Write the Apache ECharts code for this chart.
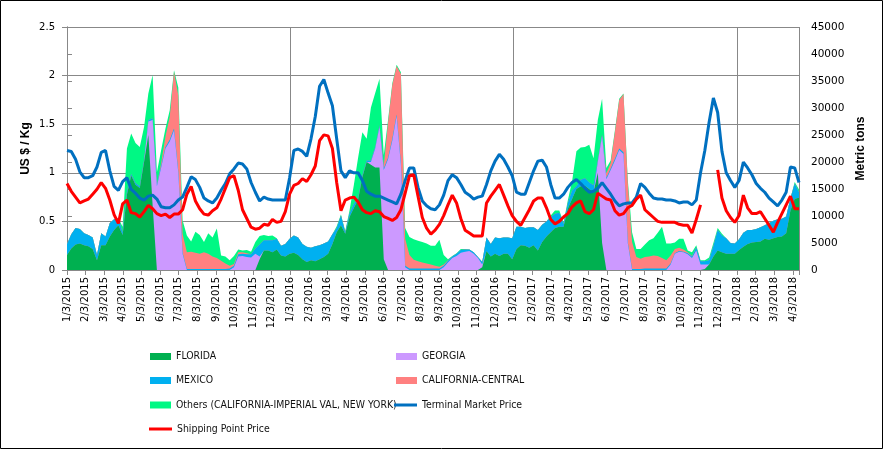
<!DOCTYPE html>
<html><head><meta charset="utf-8">
<script src="https://cdn.jsdelivr.net/npm/echarts@6/dist/echarts.min.js"></script>
<style>html,body{margin:0;padding:0;background:#fff}#c{width:883px;height:449px}</style>
</head><body><div id="c"></div><script>
// Weekly observations starting 1/3/2015 (Saturday), last week 4/14/2018
const startDate = '1/3/2015';
// x-axis tick labels (monthly)
const tickLabels = ['1/3/2015','2/3/2015','3/3/2015','4/3/2015','5/3/2015','6/3/2015','7/3/2015','8/3/2015','9/3/2015','10/3/2015','11/3/2015','12/3/2015',
'1/3/2016','2/3/2016','3/3/2016','4/3/2016','5/3/2016','6/3/2016','7/3/2016','8/3/2016','9/3/2016','10/3/2016','11/3/2016','12/3/2016',
'1/3/2017','2/3/2017','3/3/2017','4/3/2017','5/3/2017','6/3/2017','7/3/2017','8/3/2017','9/3/2017','10/3/2017','11/3/2017','12/3/2017',
'1/3/2018','2/3/2018','3/3/2018','4/3/2018'];

// Volumes, thousand metric tons per week
const florida = [2.8,4.0,4.7,4.9,4.6,4.4,3.9,1.8,4.6,4.6,
 6.2,7.4,8.3,6.5,14.0,17.5,15.8,15.2,20.0,25.0,
 12.0,0,0,0,0,0,0,0,0,0,
 0,0,0,0,0,0,0,0,0,0,
 0,0,0,0,0,2.0,3.6,3.6,3.3,3.8,
 2.7,2.5,3.0,3.2,2.8,2.0,1.5,1.8,1.6,2.0,
 2.4,3.0,4.8,7.0,8.3,6.7,9.8,11.5,13.0,17.2,
 20.0,19.5,19.0,19.0,2.0,0,0,0,0,0,
 0,0,0,0,0,0,0,0,0,0,
 0,0,0,0,0,0,0,0.5,3.5,2.5,
 3.0,2.6,3.0,3.0,2.0,3.9,4.6,4.5,4.1,4.6,
 3.6,5.2,6.2,7.0,7.8,8.0,8.0,11.4,13.2,15.0,
 15.5,15.6,15.0,14.4,18.0,5.0,0,0,0,0,
 0,0,0,0,0,0,0,0,0,0,
 0,0,0,0,0,0,0,0,0,0.2,
 1.0,2.5,3.6,3.3,3.0,3.0,3.0,3.7,4.3,4.8,
 5.1,5.2,5.3,5.8,5.6,5.9,6.1,6.2,6.8,11.0,
 13.2,13.4];
const georgia = [0,0,0,0,0,0,0,0,0,0,
 0,0,0,0,0,0,0,0,0,2.5,
 15.8,15.5,19.0,22.5,23.8,25.9,18.0,3.0,0,0,
 0,0,0,0,0,0,0,0,0,0.5,
 2.5,2.6,2.4,2.3,3.0,0.5,0,0,0,0,
 0,0,0,0,0,0,0,0,0,0,
 0,0,0,0,0,0,0,0,0,0,
 0,0.5,3.5,7.5,16.5,20.5,24.0,28.5,19.5,0.5,
 0,0,0,0,0,0,0,0,0.5,1.4,
 2.2,2.6,3.2,3.4,3.5,3.0,2.2,0.5,0,0,
 0,0,0,0,0,0,0,0,0,0,
 0,0,0,0,0,0,0,0,0,0,
 0,0,0,0,2.0,19.8,16.8,18.5,20.3,22.2,
 21.5,5.0,0,0,0,0,0,0,0,0,
 0,1.0,3.0,3.4,3.3,2.9,2.2,3.6,1.0,0.8,
 0,0,0,0,0,0,0,0,0,0,
 0,0,0,0,0,0,0,0,0,0,
 0,0];
const mexico = [2.0,2.6,3.1,2.7,2.2,2.1,2.1,1.0,2.2,1.6,
 2.5,2.0,1.3,0.5,0.5,0.3,0.3,0.3,0.3,0.3,
 0.3,0.3,0.3,0.3,0.3,0.3,0.3,0.2,0.2,0.2,
 0.2,0.2,0.2,0.2,0.2,0.2,0.2,0.2,0.3,0.3,
 0.4,0.4,0.5,0.6,1.0,2.2,1.9,1.9,2.2,2.0,
 1.8,2.3,2.8,3.2,3.2,2.8,2.8,2.3,2.8,2.6,
 2.5,2.3,1.8,0.8,1.8,0.3,0.7,0.7,0.3,0.3,
 0.3,0.3,0.3,0.3,0.3,0.3,0.3,0.3,0.3,0.3,
 0.3,0.3,0.3,0.3,0.3,0.3,0.3,0.3,0.3,0.3,
 0.3,0.4,0.5,0.4,0.3,0.3,0.2,0.5,2.5,2.3,
 3.0,3.3,3.0,3.0,3.9,4.1,3.4,3.3,3.8,3.3,
 3.8,3.2,2.8,2.8,2.6,2.6,0.5,1.0,1.5,0.5,
 1.2,1.4,1.2,1.3,0.3,0.3,0.3,0.3,0.3,0.3,
 0.3,0.2,0.2,0.2,0.2,0.3,0.3,0.3,0.3,0.3,
 0.3,0.2,0.1,0.1,0.1,0.2,0.3,0.6,0.6,0.6,
 0.8,2.0,3.8,3.1,2.9,2.0,1.9,2.0,2.6,2.6,
 2.3,2.4,2.6,2.5,3.1,3.2,3.3,3.3,3.1,2.3,
 2.8,1.0];
const californiaCentral = [0,0,0,0,0,0,0,0,0,0,
 0,0,0,0,0,0,0,0,0,0,
 0,0,0.5,1.9,4.3,10.5,14.0,3.5,3.1,3.2,
 3.0,2.8,3.1,2.8,2.3,2.0,1.5,1.0,0.5,0.3,
 0.4,0.3,0.2,0,0,0,0,0,0,0,
 0,0,0,0,0,0,0,0,0,0,
 0,0,0,0,0,0,0,0,0,0,
 0,0,0,0,0.5,6.5,10.0,9.0,16.5,5.0,
 2.5,1.6,1.3,1.1,0.9,0.7,0.5,0.3,0.2,0.1,
 0,0,0,0,0,0,0,0,0,0,
 0,0,0,0,0,0,0,0,0,0,
 0,0,0,0,0,0,0,0,0,0,
 0,0,0,0,0,0,0.8,1.0,5.0,9.0,
 10.8,11.0,5.0,2.2,1.9,2.1,2.2,2.4,2.3,1.9,
 1.5,1.5,0.8,0.6,0.4,0.2,0.1,0,0,0,
 0,0,0,0,0,0,0,0,0,0,
 0,0,0,0,0,0,0,0,0,0,
 0,0];
const others = [0,0,0,0,0,0,0,0,0,0,
 0,0,0,1.0,8.0,7.5,7.4,7.3,6.2,4.9,
 8.0,2.3,2.4,1.5,1.2,0.3,1.5,2.5,3.1,1.9,
 3.9,3.5,1.9,3.8,3.5,5.5,1.0,1.3,1.0,1.5,
 0.5,0.3,0.6,0.5,1.2,1.6,1.0,0.8,0.9,0.1,
 0,0,0,0,0,0,0,0,0,0,
 0,0,0,0.3,0.2,0.2,0.5,3.5,7.5,8.0,
 4.0,9.8,10.0,8.6,2.0,0.5,0.3,0.2,0.3,2.0,
 3.3,3.8,3.8,3.8,3.7,3.5,3.7,5.0,1.8,0.2,
 0.1,0.1,0.2,0.1,0,0,0,0,0,0,
 0,0,0,0,0,0,0,0,0,0,
 0,0,0,0.3,0.6,0.4,0.3,0.5,1.8,6.5,
 6.0,5.8,7.0,5.0,7.5,6.6,1.0,0.5,0.3,0.2,
 0.1,0.5,1.8,1.5,1.8,2.3,3.0,3.2,4.3,5.8,
 3.1,2.2,1.2,1.7,2.0,0.3,0.7,0.4,0.2,0.2,
 0.5,0.5,0.4,0.3,0,0,0,0,0,0,
 0,0,0,0,0,0,0,0,0,0,
 0.3,0.5];

// Prices, US $ / Kg
const terminalPrice = [1.23,1.22,1.14,1.01,0.95,0.95,0.97,1.06,1.21,1.23,
 1.02,0.86,0.82,0.91,0.95,0.83,0.79,0.74,0.72,0.76,
 0.77,0.73,0.65,0.64,0.64,0.67,0.72,0.75,0.85,0.96,
 0.93,0.85,0.74,0.71,0.69,0.74,0.82,0.89,0.99,1.04,
 1.10,1.09,1.04,0.90,0.80,0.71,0.75,0.73,0.72,0.72,
 0.72,0.72,0.95,1.23,1.245,1.22,1.17,1.35,1.58,1.89,
 1.96,1.82,1.69,1.35,1.02,0.95,1.02,1.00,1.00,0.92,
 0.81,0.78,0.76,0.76,0.74,0.72,0.70,0.68,0.78,0.92,
 1.05,1.05,0.85,0.71,0.66,0.63,0.62,0.67,0.77,0.92,
 0.98,0.95,0.88,0.80,0.77,0.73,0.75,0.76,0.88,1.02,
 1.12,1.19,1.14,1.06,0.97,0.80,0.78,0.78,0.90,1.02,
 1.12,1.13,1.06,0.88,0.74,0.74,0.78,0.85,0.90,0.93,
 0.89,0.84,0.80,0.81,0.84,0.90,0.84,0.78,0.71,0.66,
 0.68,0.69,0.69,0.75,0.89,0.85,0.79,0.74,0.73,0.73,
 0.72,0.72,0.71,0.69,0.70,0.70,0.67,0.72,1.00,1.23,
 1.52,1.77,1.62,1.22,1.00,0.92,0.85,0.92,1.11,1.05,
 0.98,0.89,0.84,0.80,0.74,0.70,0.66,0.72,0.80,1.06,
 1.05,0.90];
const shippingPrice = [0.89,0.81,0.75,0.69,0.71,0.73,0.78,0.83,0.90,0.84,
 0.72,0.57,0.48,0.68,0.72,0.59,0.58,0.545,0.60,0.665,
 0.63,0.58,0.56,0.575,0.54,0.575,0.575,0.62,0.78,0.86,
 0.71,0.63,0.575,0.565,0.61,0.64,0.73,0.84,0.95,0.97,
 0.82,0.62,0.53,0.44,0.42,0.43,0.47,0.46,0.52,0.49,
 0.50,0.60,0.78,0.87,0.89,0.94,0.91,0.98,1.07,1.33,
 1.39,1.38,1.25,0.90,0.61,0.72,0.74,0.75,0.70,0.62,
 0.59,0.58,0.61,0.60,0.55,0.53,0.51,0.54,0.62,0.79,
 0.97,0.98,0.76,0.54,0.43,0.37,0.41,0.47,0.56,0.67,
 0.77,0.69,0.53,0.41,0.38,0.35,0.35,0.35,0.69,0.76,
 0.82,0.88,0.77,0.66,0.56,0.50,0.46,0.54,0.62,0.71,
 0.74,0.74,0.64,0.52,0.475,0.50,0.545,0.58,0.65,0.69,
 0.71,0.60,0.58,0.62,0.79,0.76,0.73,0.72,0.61,0.565,
 0.58,0.64,0.665,0.73,0.77,0.62,0.58,0.54,0.50,0.49,
 0.49,0.49,0.49,0.47,0.46,0.46,0.38,0.52,0.67,null,
 null,null,1.03,0.74,0.61,0.54,0.49,0.56,0.77,0.64,
 0.58,0.58,0.60,0.53,0.46,0.39,0.49,0.58,0.67,0.76,
 0.63,0.63];

// days since the first week (weekly categories)
const dayOffsets = florida.map((_, i) => i * 7);
const MONTH = 365.25 / 12;
const XMAX = dayOffsets[dayOffsets.length - 1];

const GRID = '#888888';
const areaDefs = [
  ['FLORIDA', florida, '#00B050'],
  ['GEORGIA', georgia, '#CC99FF'],
  ['MEXICO', mexico, '#00B0F0'],
  ['CALIFORNIA-CENTRAL', californiaCentral, '#FF8080'],
  ['Others (CALIFORNIA-IMPERIAL VAL, NEW YORK)', others, '#00F884']
];
// stacked (cumulative) tops, in metric tons
let running = florida.map(() => 0);
const areaSeries = areaDefs.map(([name, arr, color]) => {
  running = running.map((r, i) => r + arr[i]);
  const tops = running.slice();
  return {
    name, type: 'line', yAxisIndex: 1, xAxisIndex: 0,
    data: tops.map((v, i) => [dayOffsets[i], Math.round(v * 1000)]),
    symbol: 'none', silent: true,
    lineStyle: { width: 0, color }, itemStyle: { color },
    areaStyle: { color, opacity: 1, origin: 'start' }, z: 2
  };
});
// draw top-most cumulative first so lower layers paint over it
const series = areaSeries.slice().reverse();
series.push({
  name: 'Terminal Market Price', type: 'line', yAxisIndex: 0, xAxisIndex: 0,
  data: terminalPrice.map((v, i) => [dayOffsets[i], v]), symbol: 'none',
  lineStyle: { width: 3, color: '#0070C0' }, itemStyle: { color: '#0070C0' }, z: 5
});
series.push({
  name: 'Shipping Point Price', type: 'line', yAxisIndex: 0, xAxisIndex: 0,
  data: shippingPrice.map((v, i) => [dayOffsets[i], v]), symbol: 'none', connectNulls: false,
  lineStyle: { width: 3, color: '#FF0000' }, itemStyle: { color: '#FF0000' }, z: 6
});

const LFONT = { fontFamily: "'Liberation Sans Narrow','DejaVu Sans Condensed','Liberation Sans',sans-serif", fontSize: 10.4, color: '#111' };
function leg(name, left, top, isLine) {
  return { data: [name], left, top, padding: 0, selectedMode: false, icon: 'rect',
    itemWidth: isLine ? 23 : 21, itemHeight: isLine ? 3 : 7, textStyle: LFONT };
}

const chart = echarts.init(document.getElementById('c'), null, { renderer: 'canvas' });
chart.setOption({
  animation: false,
  backgroundColor: '#fff',
  grid: { left: 67, right: 84, top: 27, bottom: 179, containLabel: false },
  graphic: [{ type: 'rect', shape: { x: 0.5, y: 0.5, width: 882, height: 448 }, style: { fill: 'none', stroke: '#000', lineWidth: 1 }, z: 100 }],
  legend: [
    leg('FLORIDA', 150, 351.5, false),
    leg('GEORGIA', 396, 351.5, false),
    leg('MEXICO', 150, 375.5, false),
    leg('CALIFORNIA-CENTRAL', 396, 375.5, false),
    leg('Others (CALIFORNIA-IMPERIAL VAL, NEW YORK)', 150, 400, false),
    leg('Terminal Market Price', 394, 400, true),
    leg('Shipping Point Price', 149, 424, true)
  ],
  xAxis: [{
    type: 'value', min: 0, max: XMAX, interval: MONTH, position: 'bottom',
    axisLine: { show: true, onZero: false, lineStyle: { color: GRID } },
    axisTick: { show: true, length: 5, lineStyle: { color: GRID } },
    splitLine: { show: false },
    axisLabel: {
      rotate: 90, margin: 7, fontSize: 10, fontFamily: 'DejaVu Sans', color: '#000',
      formatter: v => { const k = Math.round(v / MONTH); if (Math.abs(v - k * MONTH) > 0.5 || k >= tickLabels.length) return ''; return tickLabels[k]; }
    }
  }, {
    type: 'value', min: 0, max: XMAX, interval: 365.25, position: 'bottom',
    axisLine: { show: false }, axisTick: { show: false }, axisLabel: { show: false },
    splitLine: { show: true, lineStyle: { color: GRID, width: 1 } }
  }],
  yAxis: [{
    type: 'value', min: 0, max: 2.5, interval: 0.5, position: 'left',
    name: 'US $ / Kg', nameLocation: 'middle', nameRotate: 90, nameGap: 35, nameMoveOverlap: false,
    nameTextStyle: { fontFamily: 'Liberation Sans', fontWeight: 'bold', fontSize: 12, color: '#000' },
    axisLine: { show: true, lineStyle: { color: GRID } },
    axisTick: { show: true, length: 5, lineStyle: { color: GRID } },
    splitLine: { show: true, lineStyle: { color: GRID } },
    axisLabel: { fontSize: 10, fontFamily: 'DejaVu Sans', color: '#000', margin: 12 }
  }, {
    type: 'value', min: 0, max: 45000, interval: 5000, position: 'right',
    name: 'Metric tons', nameLocation: 'middle', nameRotate: 90, nameGap: 56, nameMoveOverlap: false,
    nameTextStyle: { fontFamily: 'Liberation Sans', fontWeight: 'bold', fontSize: 12, color: '#000' },
    axisLine: { show: true, lineStyle: { color: GRID } },
    axisTick: { show: true, length: 5, lineStyle: { color: GRID } },
    splitLine: { show: false },
    axisLabel: { fontSize: 10.5, fontFamily: 'DejaVu Sans', color: '#000', margin: 12, formatter: v => String(v) }
  }],
  series
});
</script></body></html>
